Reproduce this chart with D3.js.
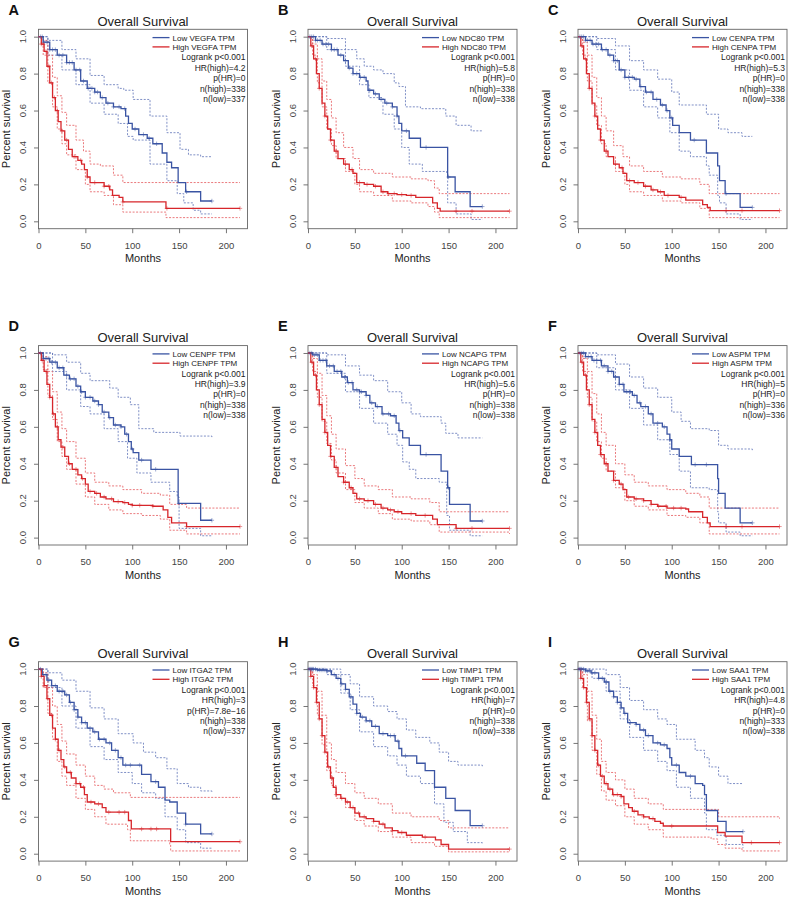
<!DOCTYPE html>
<html>
<head>
<meta charset="utf-8">
<script src="https://cdn.jsdelivr.net/npm/d3@7"></script>
<style>
  body { margin: 0; background: #fff; }
  svg { display: block; font-family: "Liberation Sans", Arial, sans-serif; }
</style>
</head>
<body>
<div id="chart"></div>
<script>
// panel labels and stats
const letters = ["A", "B", "C", "D", "E", "F", "G", "H", "I"]
const genes = ["VEGFA", "NDC80", "CENPA", "CENPF", "NCAPG", "ASPM", "ITGA2", "TIMP1", "SAA1"]
const hrHigh = ["4.2", "5.8", "5.3", "3.9", "5.6", "5", "3", "7", "4.8"]
const pHR = ["0", "0", "0", "0", "0", "0", "7.8e\u221216", "0", "0"]
const nHigh = [338, 338, 338, 338, 338, 336, 338, 338, 333]
const nLow = [337, 338, 338, 338, 338, 336, 337, 338, 338]
const xTicks = [0, 50, 100, 150, 200]
const yTicks = [0, 0.2, 0.4, 0.6, 0.8, 1.0]

// survival curves: [month, survival] step points
const lowA = [[0,1],[5,0.97],[12,0.93],[20,0.9],[30,0.86],[38,0.82],[45,0.76],[52,0.72],[60,0.7],[66,0.67],[72,0.64],[80,0.62],[88,0.61],[93,0.57],[96,0.53],[100,0.5],[107,0.47],[116,0.45],[122,0.42],[132,0.37],[137,0.32],[142,0.29],[149,0.21],[157,0.16],[173,0.11],[185,0.11]]
const highA = [[0,1],[3,0.96],[6,0.92],[9,0.84],[12,0.75],[15,0.67],[18,0.6],[21,0.54],[24,0.49],[28,0.44],[32,0.39],[36,0.35],[42,0.33],[46,0.31],[49,0.28],[52,0.24],[55,0.21],[65,0.21],[70,0.19],[76,0.17],[79,0.14],[86,0.13],[90,0.105],[136,0.07],[215,0.07]]
const lowUpA = [[0,1],[10,0.98],[25,0.93],[40,0.88],[55,0.79],[70,0.74],[85,0.72],[91,0.71],[101,0.66],[119,0.57],[137,0.48],[151,0.39],[160,0.36],[173,0.35],[185,0.35]]
const lowDnA = [[0,1],[10,0.9],[25,0.82],[40,0.74],[55,0.64],[70,0.58],[85,0.53],[95,0.46],[101,0.44],[119,0.31],[137,0.22],[148,0.15],[155,0.1],[165,0.06],[173,0.04],[185,0.04]]
const highUpA = [[0,1],[5,0.98],[10,0.9],[15,0.78],[20,0.68],[25,0.59],[30,0.52],[40,0.44],[48,0.38],[55,0.31],[66,0.3],[80,0.25],[90,0.21],[215,0.21]]
const highDnA = [[0,1],[5,0.9],[10,0.75],[15,0.62],[20,0.5],[25,0.42],[30,0.36],[40,0.28],[50,0.2],[55,0.16],[70,0.14],[80,0.09],[90,0.05],[136,0.02],[215,0.02]]
const cenLowA = [2,4,6,9,12,15,18,22,26,30,33,36,40,44,48,53,57,60,63,68,74,80,86,92,103,112,118,126,158,185]
const cenHighA = [3,5,8,11,14,17,20,25,30,38,45,52,60,70,75,90,137,215]

const lowB = [[0,1],[8,0.98],[15,0.96],[25,0.93],[32,0.9],[38,0.87],[43,0.83],[48,0.8],[55,0.78],[62,0.76],[64,0.71],[70,0.69],[76,0.66],[82,0.64],[90,0.62],[95,0.57],[97,0.53],[100,0.49],[108,0.45],[120,0.4],[149,0.24],[157,0.16],[173,0.08],[186,0.08]]
const highB = [[0,1],[3,0.95],[6,0.88],[9,0.8],[12,0.72],[15,0.64],[18,0.57],[21,0.5],[24,0.44],[28,0.38],[32,0.34],[38,0.31],[44,0.28],[48,0.26],[52,0.21],[60,0.2],[70,0.19],[78,0.16],[85,0.15],[95,0.145],[105,0.14],[115,0.13],[133,0.1],[138,0.07],[141,0.055],[215,0.055]]
const lowUpB = [[0,1],[20,0.99],[40,0.93],[52,0.88],[60,0.84],[70,0.82],[80,0.8],[92,0.75],[97,0.73],[104,0.62],[120,0.61],[147,0.57],[158,0.52],[174,0.49],[186,0.49]]
const lowDnB = [[0,1],[20,0.93],[40,0.84],[55,0.74],[65,0.67],[80,0.58],[92,0.5],[100,0.4],[108,0.31],[122,0.27],[148,0.26],[149,0.1],[158,0.04],[174,0.01],[186,0.01]]
const highUpB = [[0,1],[5,0.96],[10,0.88],[15,0.76],[20,0.66],[25,0.56],[30,0.48],[38,0.4],[48,0.34],[55,0.28],[70,0.26],[90,0.24],[110,0.23],[128,0.22],[135,0.18],[140,0.15],[215,0.15]]
const highDnB = [[0,1],[5,0.9],[10,0.75],[15,0.62],[20,0.5],[25,0.41],[30,0.34],[40,0.27],[50,0.2],[55,0.16],[70,0.14],[90,0.11],[110,0.1],[128,0.08],[135,0.05],[140,0.02],[215,0.02]]
const cenLowB = [2,4,6,8,10,13,16,19,22,25,28,31,35,40,44,48,52,56,60,66,72,78,84,90,95,105,126,150,186]
const cenHighB = [4,8,12,18,24,30,40,47,55,63,72,80,86,92,100,110,158,175,215]

const lowC = [[0,1],[8,0.98],[15,0.96],[25,0.93],[32,0.9],[38,0.87],[44,0.82],[50,0.78],[60,0.77],[66,0.73],[72,0.7],[80,0.66],[88,0.63],[94,0.6],[98,0.56],[101,0.52],[108,0.48],[120,0.44],[137,0.37],[149,0.3],[151,0.22],[157,0.15],[173,0.075],[186,0.075]]
const highC = [[0,1],[3,0.95],[6,0.88],[9,0.8],[12,0.72],[15,0.64],[18,0.57],[21,0.5],[24,0.44],[28,0.38],[32,0.35],[38,0.31],[44,0.29],[48,0.26],[52,0.22],[60,0.21],[70,0.19],[78,0.17],[85,0.16],[92,0.14],[108,0.13],[115,0.115],[133,0.09],[138,0.075],[141,0.058],[215,0.058]]
const lowUpC = [[0,1],[20,0.99],[40,0.95],[55,0.87],[70,0.82],[85,0.77],[100,0.7],[108,0.63],[120,0.63],[137,0.58],[150,0.5],[160,0.48],[175,0.46],[186,0.46]]
const lowDnC = [[0,1],[20,0.93],[40,0.82],[55,0.71],[70,0.62],[85,0.56],[98,0.48],[108,0.38],[120,0.35],[137,0.3],[140,0.25],[149,0.14],[151,0.1],[158,0.04],[173,0.01],[186,0.01]]
const highUpC = [[0,1],[5,0.97],[10,0.9],[15,0.78],[20,0.67],[25,0.57],[30,0.49],[38,0.41],[48,0.35],[55,0.3],[70,0.27],[90,0.24],[110,0.23],[130,0.2],[140,0.15],[215,0.15]]
const highDnC = [[0,1],[5,0.9],[10,0.76],[15,0.63],[20,0.52],[25,0.42],[30,0.35],[40,0.27],[50,0.2],[55,0.16],[70,0.14],[90,0.11],[110,0.1],[130,0.07],[140,0.02],[215,0.02]]
const cenLowC = [2,4,6,8,10,13,16,19,22,26,30,34,38,42,46,50,54,58,62,67,73,78,84,90,95,100,124,158,186]
const cenHighC = [4,8,12,18,24,30,40,47,55,64,72,80,88,96,110,158,175,215]

const lowD = [[0,1],[5,0.97],[12,0.95],[20,0.92],[27,0.88],[33,0.86],[40,0.82],[45,0.79],[50,0.76],[58,0.74],[64,0.72],[68,0.68],[75,0.65],[80,0.61],[88,0.6],[92,0.56],[96,0.52],[99,0.48],[101,0.46],[107,0.42],[120,0.37],[149,0.185],[173,0.094],[185,0.094]]
const highD = [[0,1],[3,0.96],[6,0.9],[9,0.83],[12,0.76],[15,0.67],[18,0.6],[21,0.53],[24,0.49],[28,0.44],[32,0.4],[36,0.37],[42,0.34],[46,0.32],[50,0.29],[53,0.25],[60,0.24],[66,0.22],[72,0.21],[80,0.195],[90,0.19],[96,0.18],[100,0.175],[122,0.17],[133,0.15],[138,0.11],[142,0.08],[158,0.06],[215,0.06]]
const lowUpD = [[0,1],[15,0.99],[30,0.95],[45,0.89],[55,0.85],[76,0.81],[85,0.76],[98,0.72],[107,0.59],[123,0.57],[151,0.55],[185,0.54]]
const lowDnD = [[0,1],[15,0.9],[30,0.8],[45,0.71],[55,0.67],[70,0.59],[85,0.52],[95,0.43],[105,0.35],[120,0.3],[140,0.25],[148,0.22],[150,0.05],[173,0.01],[185,0.01]]
const highUpD = [[0,1],[5,0.98],[10,0.9],[15,0.79],[20,0.68],[25,0.59],[30,0.52],[40,0.43],[50,0.35],[60,0.3],[75,0.28],[90,0.26],[110,0.24],[130,0.23],[140,0.18],[158,0.16],[215,0.16]]
const highDnD = [[0,1],[5,0.91],[10,0.77],[15,0.64],[20,0.52],[25,0.44],[30,0.37],[40,0.29],[50,0.22],[60,0.18],[75,0.15],[90,0.13],[110,0.12],[130,0.1],[140,0.04],[158,0.02],[215,0.02]]
const cenLowD = [2,5,8,11,14,18,22,26,30,34,38,42,46,50,55,60,64,70,76,82,88,94,100,110,125,150,185]
const cenHighD = [4,8,12,16,20,26,33,40,47,55,62,70,78,85,92,100,108,122,158,215]

const lowE = [[0,1],[5,0.99],[12,0.96],[20,0.93],[28,0.9],[36,0.87],[42,0.84],[48,0.8],[55,0.79],[62,0.77],[66,0.73],[72,0.71],[79,0.67],[88,0.66],[94,0.62],[97,0.58],[101,0.54],[108,0.5],[120,0.45],[142,0.36],[149,0.27],[151,0.18],[173,0.09],[186,0.09]]
const highE = [[0,1],[3,0.95],[6,0.88],[9,0.8],[12,0.72],[15,0.64],[18,0.57],[21,0.5],[24,0.44],[28,0.38],[32,0.33],[38,0.3],[44,0.27],[48,0.24],[52,0.21],[60,0.2],[70,0.18],[78,0.16],[85,0.15],[92,0.14],[100,0.13],[115,0.12],[133,0.1],[138,0.07],[158,0.05],[215,0.05]]
const lowUpE = [[0,1],[20,0.99],[40,0.93],[55,0.88],[70,0.85],[85,0.79],[100,0.73],[110,0.67],[120,0.655],[142,0.62],[147,0.565],[160,0.54],[186,0.54]]
const lowDnE = [[0,1],[20,0.89],[40,0.79],[55,0.7],[70,0.62],[85,0.56],[95,0.5],[101,0.41],[108,0.37],[115,0.32],[140,0.3],[148,0.12],[151,0.04],[173,0.01],[186,0.01]]
const highUpE = [[0,1],[5,0.97],[10,0.89],[15,0.77],[20,0.66],[25,0.56],[30,0.48],[40,0.39],[50,0.32],[60,0.28],[75,0.26],[90,0.22],[110,0.21],[130,0.19],[140,0.14],[215,0.14]]
const highDnE = [[0,1],[5,0.9],[10,0.76],[15,0.63],[20,0.51],[25,0.42],[30,0.35],[40,0.26],[50,0.19],[60,0.16],[75,0.13],[90,0.1],[110,0.09],[130,0.07],[140,0.03],[215,0.02]]
const cenLowE = [2,4,7,10,13,16,19,23,27,31,35,39,43,47,52,57,62,68,74,80,86,92,98,126,150,186]
const cenHighE = [4,8,12,18,24,30,38,46,55,64,72,80,88,96,110,125,158,175,215]

const lowF = [[0,1],[8,0.98],[15,0.96],[25,0.93],[32,0.9],[38,0.87],[44,0.83],[49,0.79],[58,0.77],[63,0.73],[67,0.71],[75,0.67],[80,0.62],[90,0.6],[95,0.56],[98,0.53],[100,0.48],[108,0.44],[121,0.395],[149,0.32],[150,0.24],[157,0.16],[173,0.08],[186,0.08]]
const highF = [[0,1],[3,0.95],[6,0.88],[9,0.8],[12,0.72],[15,0.64],[18,0.57],[21,0.5],[24,0.45],[28,0.4],[32,0.36],[38,0.31],[44,0.29],[48,0.26],[52,0.22],[60,0.21],[70,0.2],[78,0.18],[85,0.17],[95,0.16],[115,0.155],[118,0.14],[133,0.11],[138,0.08],[141,0.06],[215,0.06]]
const lowUpF = [[0,1],[20,0.99],[40,0.94],[55,0.87],[70,0.81],[85,0.76],[100,0.68],[110,0.63],[120,0.59],[140,0.58],[150,0.5],[160,0.48],[186,0.47]]
const lowDnF = [[0,1],[20,0.92],[40,0.8],[55,0.7],[70,0.61],[85,0.53],[98,0.45],[108,0.36],[120,0.27],[140,0.26],[149,0.14],[150,0.08],[158,0.03],[173,0.01],[186,0.01]]
const highUpF = [[0,1],[5,0.97],[10,0.9],[15,0.78],[20,0.67],[25,0.57],[30,0.5],[40,0.4],[50,0.34],[60,0.3],[75,0.28],[95,0.26],[115,0.24],[130,0.22],[140,0.16],[215,0.16]]
const highDnF = [[0,1],[5,0.9],[10,0.76],[15,0.63],[20,0.52],[25,0.43],[30,0.36],[40,0.27],[50,0.2],[60,0.17],[75,0.15],[95,0.12],[115,0.11],[130,0.08],[140,0.02],[215,0.02]]
const cenLowF = [2,4,6,8,11,14,17,20,24,28,32,36,40,44,48,52,56,60,66,72,78,85,92,98,125,137,186]
const cenHighF = [4,8,12,18,24,30,38,46,54,62,70,78,86,94,102,110,158,175,215]

const lowG = [[0,1],[4,0.97],[9,0.94],[14,0.91],[20,0.88],[28,0.86],[33,0.82],[38,0.78],[42,0.74],[46,0.71],[52,0.68],[58,0.66],[64,0.62],[72,0.6],[78,0.56],[85,0.52],[90,0.48],[105,0.48],[110,0.43],[120,0.39],[128,0.36],[135,0.29],[140,0.28],[148,0.22],[157,0.16],[173,0.107],[185,0.107]]
const highG = [[0,1],[3,0.96],[6,0.91],[9,0.84],[12,0.75],[15,0.68],[18,0.62],[21,0.56],[24,0.51],[27,0.47],[30,0.44],[35,0.41],[40,0.38],[45,0.36],[49,0.32],[52,0.28],[60,0.27],[68,0.25],[72,0.225],[96,0.18],[99,0.134],[141,0.065],[215,0.065]]
const lowUpG = [[0,1],[10,0.98],[25,0.94],[40,0.88],[55,0.79],[70,0.73],[85,0.65],[101,0.6],[112,0.55],[125,0.52],[137,0.46],[148,0.38],[160,0.36],[173,0.34],[185,0.33]]
const lowDnG = [[0,1],[10,0.9],[25,0.8],[40,0.68],[55,0.58],[70,0.51],[85,0.44],[100,0.38],[110,0.33],[125,0.3],[135,0.2],[148,0.13],[157,0.06],[173,0.03],[185,0.03]]
const highUpG = [[0,1],[5,0.98],[10,0.9],[15,0.8],[20,0.7],[25,0.61],[30,0.54],[40,0.48],[50,0.42],[60,0.37],[70,0.35],[80,0.33],[98,0.305],[215,0.305]]
const highDnG = [[0,1],[5,0.9],[10,0.76],[15,0.62],[20,0.5],[25,0.42],[30,0.37],[40,0.3],[50,0.24],[60,0.2],[72,0.16],[95,0.13],[98,0.07],[140,0.05],[141,0.015],[215,0.015]]
const cenLowG = [2,5,8,11,14,18,22,26,30,34,38,42,46,50,55,60,65,70,76,82,88,93,98,108,125,157,185]
const cenHighG = [3,6,10,14,18,22,28,34,40,44,48,56,64,75,86,92,110,120,126,215]

const lowH = [[0,1],[10,0.995],[20,0.99],[25,0.97],[30,0.95],[35,0.92],[40,0.89],[44,0.85],[48,0.81],[52,0.76],[56,0.74],[62,0.72],[68,0.69],[76,0.65],[85,0.64],[93,0.61],[97,0.57],[100,0.53],[116,0.49],[125,0.45],[135,0.36],[147,0.3],[157,0.234],[173,0.152],[186,0.152]]
const highH = [[0,1],[3,0.96],[6,0.9],[9,0.82],[12,0.73],[15,0.64],[18,0.55],[21,0.47],[24,0.41],[27,0.36],[30,0.32],[35,0.3],[40,0.28],[45,0.25],[50,0.22],[55,0.2],[62,0.19],[70,0.175],[76,0.16],[82,0.14],[90,0.125],[96,0.115],[105,0.1],[122,0.09],[136,0.075],[142,0.05],[150,0.025],[215,0.025]]
const lowUpH = [[0,1],[20,1],[35,0.97],[45,0.92],[55,0.85],[70,0.8],[85,0.77],[95,0.73],[105,0.67],[115,0.63],[130,0.6],[140,0.55],[150,0.5],[160,0.48],[186,0.47]]
const lowDnH = [[0,1],[20,0.97],[35,0.87],[45,0.78],[55,0.66],[70,0.58],[85,0.53],[95,0.48],[105,0.42],[120,0.38],[135,0.27],[145,0.17],[155,0.12],[170,0.06],[186,0.05]]
const highUpH = [[0,1],[5,0.97],[10,0.88],[15,0.75],[20,0.6],[25,0.51],[30,0.44],[40,0.38],[50,0.33],[60,0.3],[75,0.27],[90,0.22],[110,0.2],[140,0.18],[150,0.14],[215,0.14]]
const highDnH = [[0,1],[5,0.91],[10,0.75],[15,0.59],[20,0.45],[25,0.37],[30,0.3],[40,0.25],[50,0.18],[60,0.15],[75,0.12],[90,0.09],[110,0.06],[135,0.04],[150,0.01],[215,0.01]]
const cenLowH = [1,2,3,4,5,6,8,10,12,14,16,18,21,24,28,32,36,40,46,52,58,62,66,72,80,88,92,96,104,186]
const cenHighH = [3,6,9,12,15,18,22,26,30,36,42,48,54,60,70,80,90,100,125,215]

const lowI = [[0,1],[8,0.99],[14,0.98],[22,0.95],[28,0.93],[33,0.88],[38,0.85],[42,0.82],[46,0.79],[49,0.76],[53,0.71],[62,0.7],[66,0.67],[72,0.64],[80,0.6],[88,0.59],[95,0.57],[98,0.52],[100,0.48],[108,0.44],[115,0.42],[125,0.38],[133,0.37],[135,0.32],[137,0.234],[149,0.175],[158,0.12],[176,0.12]]
const highI = [[0,1],[3,0.95],[6,0.9],[9,0.82],[12,0.73],[15,0.64],[18,0.56],[21,0.48],[24,0.42],[28,0.38],[32,0.35],[37,0.32],[46,0.31],[49,0.27],[54,0.25],[58,0.23],[64,0.21],[70,0.2],[76,0.19],[82,0.175],[88,0.165],[91,0.15],[149,0.115],[157,0.095],[175,0.06],[215,0.06]]
const lowUpI = [[0,1],[15,1],[30,0.97],[45,0.9],[55,0.83],[70,0.78],[85,0.73],[95,0.7],[105,0.62],[125,0.56],[135,0.52],[140,0.47],[150,0.42],[160,0.38],[176,0.38]]
const lowDnI = [[0,1],[15,0.95],[30,0.88],[45,0.73],[55,0.63],[70,0.56],[85,0.5],[95,0.45],[105,0.36],[120,0.3],[135,0.22],[137,0.13],[148,0.1],[158,0.05],[176,0.03]]
const highUpI = [[0,1],[5,0.97],[10,0.88],[15,0.75],[20,0.62],[25,0.5],[30,0.44],[40,0.4],[50,0.35],[60,0.3],[75,0.27],[91,0.24],[142,0.24],[150,0.2],[173,0.2],[215,0.19]]
const highDnI = [[0,1],[5,0.9],[10,0.72],[15,0.56],[20,0.43],[25,0.34],[30,0.29],[40,0.26],[50,0.2],[60,0.16],[75,0.13],[91,0.09],[142,0.08],[149,0.05],[157,0.03],[175,0.015],[215,0.015]]
const cenLowI = [1,2,3,4,6,8,10,12,15,18,22,26,30,34,38,42,46,50,56,62,70,75,85,92,105,120,176]
const cenHighI = [3,6,9,12,15,18,22,26,30,34,38,42,46,60,70,80,100,185,215]

const panels = [
  {low: lowA, high: highA, lowUp: lowUpA, lowDn: lowDnA, highUp: highUpA, highDn: highDnA, cLow: cenLowA, cHigh: cenHighA},
  {low: lowB, high: highB, lowUp: lowUpB, lowDn: lowDnB, highUp: highUpB, highDn: highDnB, cLow: cenLowB, cHigh: cenHighB},
  {low: lowC, high: highC, lowUp: lowUpC, lowDn: lowDnC, highUp: highUpC, highDn: highDnC, cLow: cenLowC, cHigh: cenHighC},
  {low: lowD, high: highD, lowUp: lowUpD, lowDn: lowDnD, highUp: highUpD, highDn: highDnD, cLow: cenLowD, cHigh: cenHighD},
  {low: lowE, high: highE, lowUp: lowUpE, lowDn: lowDnE, highUp: highUpE, highDn: highDnE, cLow: cenLowE, cHigh: cenHighE},
  {low: lowF, high: highF, lowUp: lowUpF, lowDn: lowDnF, highUp: highUpF, highDn: highDnF, cLow: cenLowF, cHigh: cenHighF},
  {low: lowG, high: highG, lowUp: lowUpG, lowDn: lowDnG, highUp: highUpG, highDn: highDnG, cLow: cenLowG, cHigh: cenHighG},
  {low: lowH, high: highH, lowUp: lowUpH, lowDn: lowDnH, highUp: highUpH, highDn: highDnH, cLow: cenLowH, cHigh: cenHighH},
  {low: lowI, high: highI, lowUp: lowUpI, lowDn: lowDnI, highUp: highUpI, highDn: highDnI, cLow: cenLowI, cHigh: cenHighI}
]

const width = 788
const height = 899
const boxW = 209
const boxH = 199.4
const colX = [38.5, 308, 578]
const rowY = [29.3, 345.6, 661.7]
const blue = "#3a54a3"
const red = "#d7262b"
const blueCI = "#5f74b8"
const redCI = "#e4585c"

const svg = d3.select("#chart").append("svg")
  .attr("width", width)
  .attr("height", height)

// step value at time t (for censor marks)
const stepAt = (curve, t) => {
  const i = d3.bisector(d => d[0]).right(curve, t) - 1
  return curve[Math.max(0, i)][1]
}

panels.forEach((p, i) => {
  const left = colX[i % 3]
  const top = rowY[Math.floor(i / 3)]
  const x = d3.scaleLinear().domain([0, 223]).range([left, left + boxW])
  const y = d3.scaleLinear().domain([-0.04, 1.04]).range([top + boxH, top])
  const g = svg.append("g")

  // box
  g.append("rect")
    .attr("x", left).attr("y", top)
    .attr("width", boxW).attr("height", boxH)
    .attr("fill", "none").attr("stroke", "#666").attr("stroke-width", 0.9)

  // x axis
  g.append("g")
    .attr("transform", `translate(0,${top + boxH})`)
    .call(d3.axisBottom(x).tickValues(xTicks).tickSize(4.5).tickPadding(9))
    .call(g => g.select(".domain").remove())
    .call(g => g.selectAll("line").attr("stroke", "#666").attr("stroke-width", 0.9))
    .call(g => g.selectAll("text").attr("fill", "#444").attr("font-size", 9.5).attr("font-family", "Liberation Sans, Arial, sans-serif"))

  // y axis (labels rotated like R)
  g.append("g")
    .attr("transform", `translate(${left},0)`)
    .call(d3.axisLeft(y).tickValues(yTicks).tickSize(4.5).tickFormat(""))
    .call(g => g.select(".domain").remove())
    .call(g => g.selectAll("line").attr("stroke", "#666").attr("stroke-width", 0.9))
  g.append("g").selectAll("text")
    .data(yTicks)
    .join("text")
      .attr("transform", d => `translate(${left - 12.3},${y(d)}) rotate(-90)`)
      .attr("text-anchor", "middle")
      .attr("font-size", 9.5)
      .attr("fill", "#444")
      .text(d3.format(".1f"))

  // titles
  g.append("text")
    .attr("x", left + boxW / 2).attr("y", top - 3.5)
    .attr("text-anchor", "middle").attr("font-size", 13).attr("fill", "#222")
    .text("Overall Survival")
  g.append("text")
    .attr("x", left - 30).attr("y", top - 14.5)
    .attr("font-size", 14.5).attr("font-weight", "bold").attr("fill", "#111")
    .text(letters[i])
  g.append("text")
    .attr("x", left + boxW / 2).attr("y", top + boxH + 33.5)
    .attr("text-anchor", "middle").attr("font-size", 11).attr("fill", "#222")
    .text("Months")
  g.append("text")
    .attr("transform", `translate(${left - 28.3},${top + boxH / 2}) rotate(-90)`)
    .attr("text-anchor", "middle").attr("font-size", 11).attr("fill", "#222")
    .text("Percent survival")

  const line = d3.line()
    .x(d => x(d[0]))
    .y(d => y(d[1]))
    .curve(d3.curveStepAfter)

  // confidence bands (dotted)
  const ci = [[p.lowUp, blueCI], [p.lowDn, blueCI], [p.highUp, redCI], [p.highDn, redCI]]
  g.append("g").selectAll("path")
    .data(ci)
    .join("path")
      .attr("d", d => line(d[0]))
      .attr("fill", "none")
      .attr("stroke", d => d[1])
      .attr("stroke-width", 0.8)
      .attr("stroke-dasharray", "2,1.5")

  // main curves
  const curves = [[p.low, blue], [p.high, red]]
  g.append("g").selectAll("path")
    .data(curves)
    .join("path")
      .attr("d", d => line(d[0]))
      .attr("fill", "none")
      .attr("stroke", d => d[1])
      .attr("stroke-width", 1.3)

  // censor marks
  const marks = p.cLow.map(t => [t, stepAt(p.low, t), blue])
    .concat(p.cHigh.map(t => [t, stepAt(p.high, t), red]))
  g.append("g").selectAll("path")
    .data(marks)
    .join("path")
      .attr("d", d => `M${x(d[0]) - 2.2},${y(d[1])}h4.4M${x(d[0])},${y(d[1]) - 2.2}v4.4`)
      .attr("stroke", d => d[2])
      .attr("stroke-width", 0.8)
      .attr("opacity", 0.6)

  // legend
  const lx = left + 114
  const legend = [["Low " + genes[i] + " TPM", blue, 8.3], ["High " + genes[i] + " TPM", red, 17.6]]
  legend.forEach(d => {
    g.append("line")
      .attr("x1", lx).attr("x2", lx + 17)
      .attr("y1", top + d[2]).attr("y2", top + d[2])
      .attr("stroke", d[1]).attr("stroke-width", 1.3)
    g.append("text")
      .attr("x", lx + 20).attr("y", top + d[2] + 2.9)
      .attr("font-size", 8).attr("fill", "#222")
      .text(d[0])
  })
  const stats = ["Logrank p<0.001", "HR(high)=" + hrHigh[i], "p(HR)=" + pHR[i], "n(high)=" + nHigh[i], "n(low)=" + nLow[i]]
  g.append("g").selectAll("text")
    .data(stats)
    .join("text")
      .attr("x", left + boxW - 2)
      .attr("y", (d, k) => top + 31 + k * 10.4)
      .attr("text-anchor", "end")
      .attr("font-size", 8.5)
      .attr("fill", "#222")
      .text(d => d)
})
</script>
</body>
</html>
